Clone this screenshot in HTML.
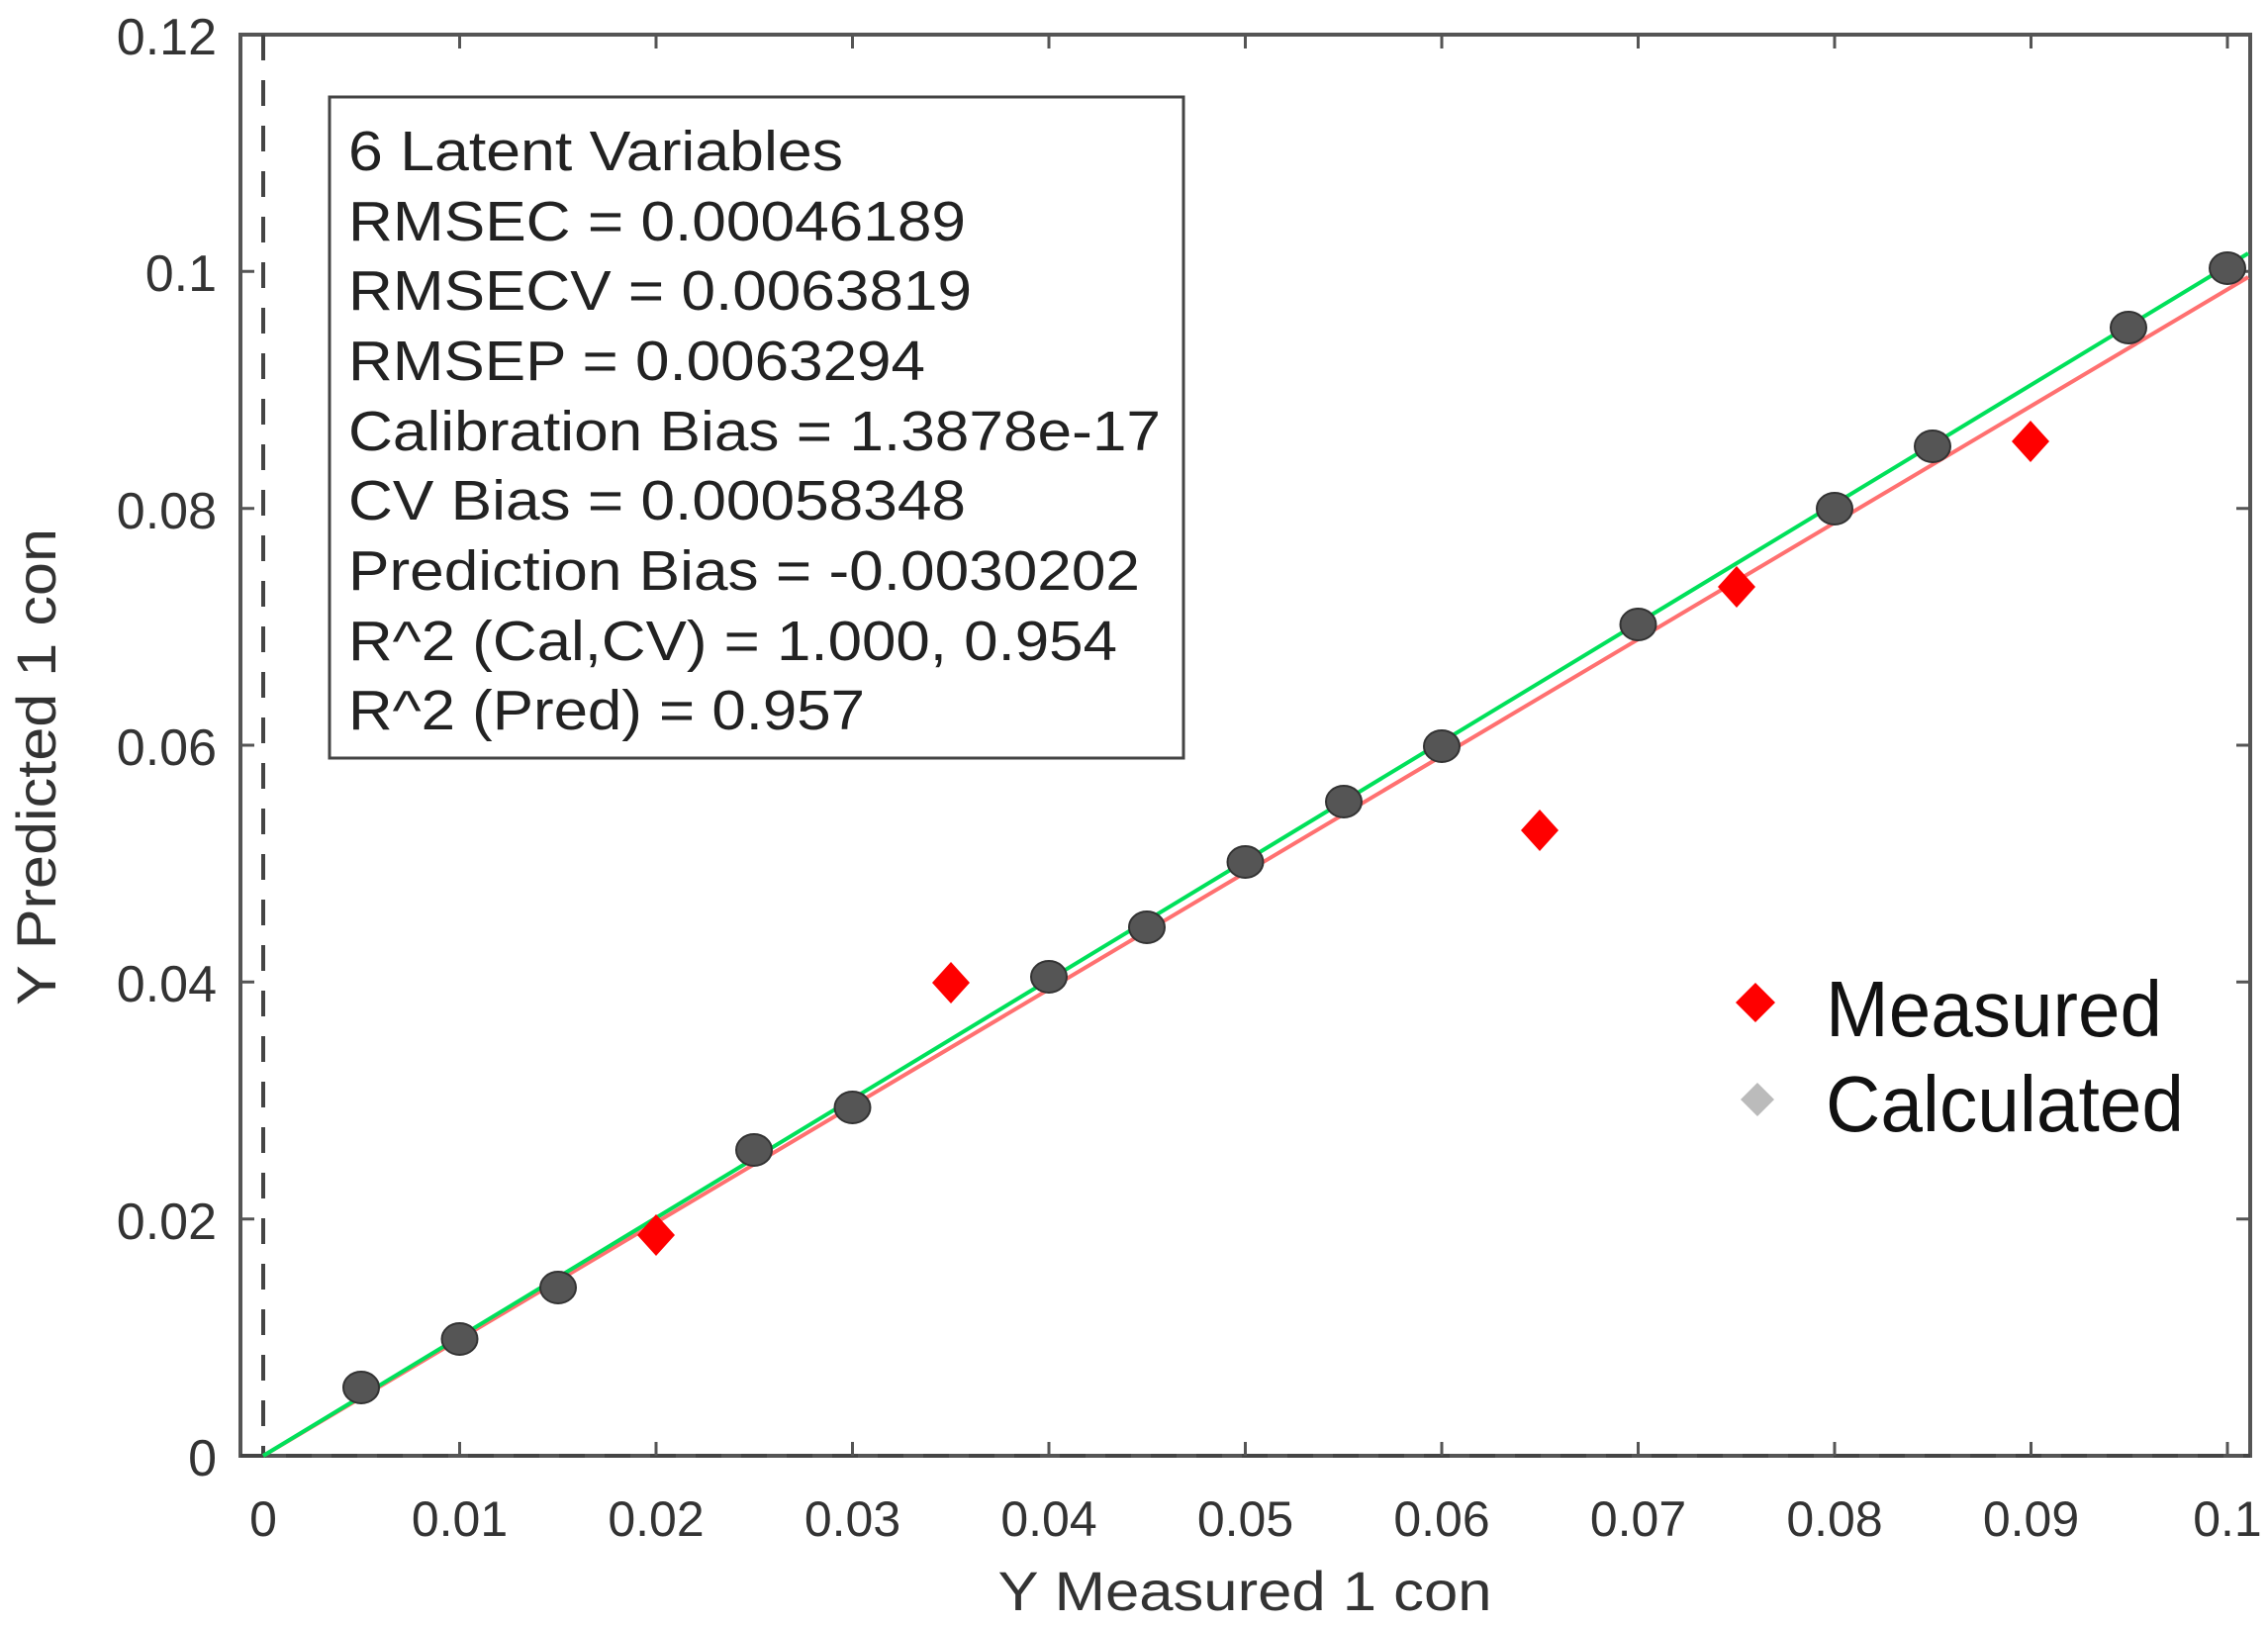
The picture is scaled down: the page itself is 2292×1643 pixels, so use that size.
<!DOCTYPE html>
<html><head><meta charset="utf-8"><style>html,body{margin:0;padding:0;background:#fff}svg{display:block}</style></head>
<body>
<svg width="2292" height="1643" viewBox="0 0 2292 1643" xmlns="http://www.w3.org/2000/svg" font-family="Liberation Sans, Arial, sans-serif">
<rect width="2292" height="1643" fill="#fff"/>
<rect x="243" y="35" width="2031" height="1436" fill="none" stroke="#555" stroke-width="4"/>
<line x1="266" y1="35" x2="266" y2="1471" stroke="#444" stroke-width="4" stroke-dasharray="26,20"/>
<line x1="243" y1="1471" x2="2274" y2="1471" stroke="#444" stroke-width="4" stroke-dasharray="26,20"/>
<g stroke="#555" stroke-width="3">
<path d="M464.5 1471v-14M663 1471v-14M861.5 1471v-14M1060 1471v-14M1258.5 1471v-14M1457 1471v-14M1655.5 1471v-14M1854 1471v-14M2052.5 1471v-14M2251 1471v-14
M464.5 35v14M663 35v14M861.5 35v14M1060 35v14M1258.5 35v14M1457 35v14M1655.5 35v14M1854 35v14M2052.5 35v14M2251 35v14"/>
<path d="M243 1231.7h14M243 992.3h14M243 753h14M243 513.7h14M243 274.3h14
M2274 1231.7h-14M2274 992.3h-14M2274 753h-14M2274 513.7h-14M2274 274.3h-14"/>
</g>
<g font-size="52" fill="#333" text-anchor="end">
<text x="219" y="55">0.12</text>
<text x="219" y="294">0.1</text>
<text x="219" y="534">0.08</text>
<text x="219" y="773">0.06</text>
<text x="219" y="1012">0.04</text>
<text x="219" y="1252">0.02</text>
<text x="219" y="1491">0</text>
</g>
<g font-size="50" fill="#333" text-anchor="middle">
<text x="266" y="1552">0</text>
<text x="464.5" y="1552">0.01</text>
<text x="663" y="1552">0.02</text>
<text x="861.5" y="1552">0.03</text>
<text x="1060" y="1552">0.04</text>
<text x="1258.5" y="1552">0.05</text>
<text x="1457" y="1552">0.06</text>
<text x="1655.5" y="1552">0.07</text>
<text x="1854" y="1552">0.08</text>
<text x="2052.5" y="1552">0.09</text>
<text x="2251" y="1552">0.1</text>
</g>
<text x="1258" y="1627" font-size="56" fill="#333" text-anchor="middle" textLength="499" lengthAdjust="spacingAndGlyphs">Y Measured 1 con</text>
<text transform="translate(56,775) rotate(-90)" font-size="56" fill="#333" text-anchor="middle" textLength="482" lengthAdjust="spacingAndGlyphs">Y Predicted 1 con</text>
<line x1="266" y1="1471" x2="2272" y2="280" stroke="#ff7070" stroke-width="4"/>
<line x1="266" y1="1471" x2="2272" y2="256" stroke="#00e05a" stroke-width="4"/>
<g fill="#555" stroke="#333" stroke-width="2">
<ellipse cx="365" cy="1402" rx="18" ry="16"/>
<ellipse cx="464.5" cy="1353" rx="18" ry="16"/>
<ellipse cx="564" cy="1301" rx="18" ry="16"/>
<ellipse cx="762" cy="1162" rx="18" ry="16"/>
<ellipse cx="861.5" cy="1119" rx="18" ry="16"/>
<ellipse cx="1060" cy="987" rx="18" ry="16"/>
<ellipse cx="1159" cy="937" rx="18" ry="16"/>
<ellipse cx="1258.5" cy="871" rx="18" ry="16"/>
<ellipse cx="1358" cy="810" rx="18" ry="16"/>
<ellipse cx="1457" cy="754" rx="18" ry="16"/>
<ellipse cx="1655.5" cy="631" rx="18" ry="16"/>
<ellipse cx="1854" cy="514" rx="18" ry="16"/>
<ellipse cx="1953" cy="451" rx="18" ry="16"/>
<ellipse cx="2151" cy="331" rx="18" ry="16"/>
<ellipse cx="2251" cy="271" rx="18" ry="16"/>
</g>
<g fill="#f00">
<path d="M663 1227l-19 21 19 21 19-21z"/>
<path d="M961 972l-19 21 19 21 19-21z"/>
<path d="M1556 818l-19 21 19 21 19-21z"/>
<path d="M1755 572l-19 21 19 21 19-21z"/>
<path d="M2052 425l-19 21 19 21 19-21z"/>
</g>
<path d="M1774 993l-20 20 20 20 20-20z" fill="#f00"/>
<path d="M1776 1094l-17 17 17 17 17-17z" fill="#bbb"/>
<text x="1845" y="1047" font-size="80" fill="#111" textLength="340" lengthAdjust="spacingAndGlyphs">Measured</text>
<text x="1845" y="1143" font-size="80" fill="#111" textLength="362" lengthAdjust="spacingAndGlyphs">Calculated</text>
<rect x="333" y="98" width="863" height="668" fill="#fff" stroke="#444" stroke-width="3"/>
<g font-size="57" fill="#222">
<text x="352" y="172" textLength="500" lengthAdjust="spacingAndGlyphs">6 Latent Variables</text>
<text x="352" y="243" textLength="624" lengthAdjust="spacingAndGlyphs">RMSEC = 0.00046189</text>
<text x="352" y="313" textLength="630" lengthAdjust="spacingAndGlyphs">RMSECV = 0.0063819</text>
<text x="352" y="384" textLength="583" lengthAdjust="spacingAndGlyphs">RMSEP = 0.0063294</text>
<text x="352" y="455" textLength="821" lengthAdjust="spacingAndGlyphs">Calibration Bias = 1.3878e-17</text>
<text x="352" y="525" textLength="624" lengthAdjust="spacingAndGlyphs">CV Bias = 0.00058348</text>
<text x="352" y="596" textLength="800" lengthAdjust="spacingAndGlyphs">Prediction Bias = -0.0030202</text>
<text x="352" y="667" textLength="777" lengthAdjust="spacingAndGlyphs">R^2 (Cal,CV) = 1.000, 0.954</text>
<text x="352" y="737" textLength="522" lengthAdjust="spacingAndGlyphs">R^2 (Pred) = 0.957</text>
</g>
</svg>
</body></html>
